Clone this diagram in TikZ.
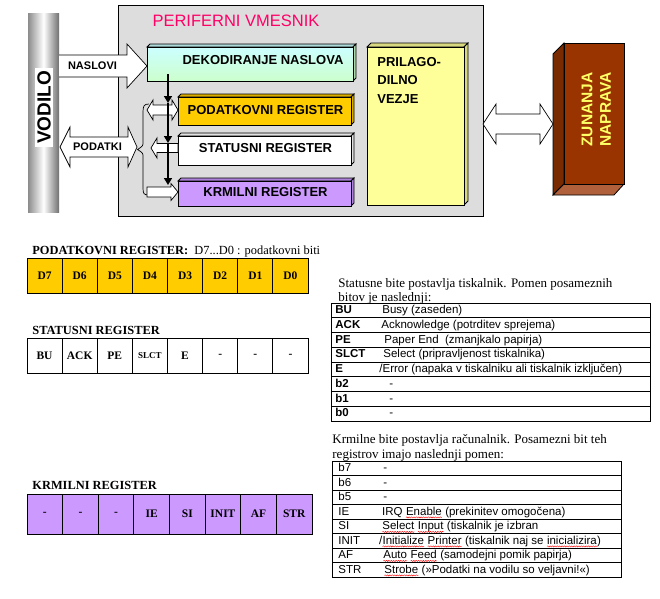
\documentclass[tikz,border=0pt]{standalone}
\usepackage{fontspec}
\setmainfont{Liberation Serif}
\newfontfamily\arial{Liberation Sans}
\usetikzlibrary{arrows.meta,decorations.pathmorphing}
\definecolor{panelgray}{HTML}{DDDDDD}
\definecolor{ttlpink}{HTML}{FF0066}
\definecolor{regyellow}{HTML}{FFCC00}
\definecolor{regviolet}{HTML}{CC99FF}
\definecolor{decocyan}{HTML}{CCFFFF}
\definecolor{decogreen}{HTML}{CCFFCC}
\definecolor{prilyellow}{HTML}{FFFF99}
\definecolor{brownfront}{HTML}{993300}
\definecolor{brownside}{HTML}{7A2A00}
\definecolor{brownbottom}{HTML}{B0603A}
\definecolor{txtyellow}{HTML}{FFFF66}
\definecolor{barshade}{HTML}{8C8C8C}
% bevelled box: x0 y0 x1 y1 depth front side
\newcommand\bevbox[7]{%
  \filldraw[fill=#7] (#1,{#2+#5}) -- ({#1+#5},#2) -- (#3,#2) -- ({#3-#5},{#2+#5}) -- cycle;
  \filldraw[fill=#7] ({#3-#5},{#2+#5}) -- (#3,#2) -- (#3,{#4-#5}) -- ({#3-#5},#4) -- cycle;
  \filldraw[fill=#6] (#1,{#2+#5}) rectangle ({#3-#5},#4);}
\newcommand\wavy[1]{\tikz[baseline=(wv.base)]{\node[inner sep=0pt,outer sep=0pt] (wv) {#1};%
  \draw[red,line width=0.4pt,decorate,decoration={snake,amplitude=0.6pt,segment length=2.4pt}]
  ([yshift=-2.4pt]wv.base west) -- ([yshift=-2.4pt]wv.base east);}}
\begin{document}
\begin{tikzpicture}[x=1pt,y=-1pt,
  lbl/.style={font=\arial\bfseries\fontsize{13}{15}\selectfont, inner sep=0pt},
  smlbl/.style={font=\arial\bfseries\fontsize{11}{13}\selectfont, inner sep=0pt},
  cell/.style={font=\bfseries\fontsize{11.5}{13}\selectfont, inner sep=0pt},
  head/.style={font=\bfseries\fontsize{12.4}{14}\selectfont, inner sep=0pt, anchor=base west},
  para/.style={font=\fontsize{13}{15}\selectfont, inner sep=0pt, anchor=base west},
  desc/.style={font=\arial\fontsize{11.5}{13}\selectfont, inner sep=0pt, anchor=base west},
  desclab/.style={font=\arial\bfseries\fontsize{11.5}{13}\selectfont, inner sep=0pt, anchor=base west},
  blk/.style={fill=white, draw=black, line width=0.7pt},
  line width=0.8pt]
\useasboundingbox (0,0) rectangle (660,598);

% ---------- bus ----------
\shade[left color=barshade, right color=barshade!80!black, middle color=white] (28,13) rectangle (59,212);
\fill[white] (35,68) rectangle (53,147);
\node[font=\arial\bfseries\fontsize{19}{21}\selectfont, rotate=90, inner sep=0pt] (vodilo) at (44,107.5) {VODILO};

% ---------- interface panel ----------
\filldraw[fill=panelgray] (118,5) rectangle (483,216);
\node[text=ttlpink, font=\arial\fontsize{16.5}{18}\selectfont, inner sep=0pt] (title) at (236,21) {PERIFERNI VMESNIK};

% decoder
\filldraw[fill=decocyan!85!black] (147,47) -- (150,44) -- (356,44) -- (353,47) -- cycle;
\filldraw[fill=decogreen!85!black] (353,47) -- (356,44) -- (356,78) -- (353,81) -- cycle;
\shade[top color=decocyan, bottom color=decogreen] (147,47) rectangle (353,81);
\draw (147,47) rectangle (353,81);
\node[lbl] (deko) at (263,60.5) {DEKODIRANJE NASLOVA};

% registers
\bevbox{178}{94}{354}{125}{3}{regyellow}{regyellow!85!black}
\node[lbl] (preg) at (265.5,110) {PODATKOVNI REGISTER};
\bevbox{178}{133}{354}{165}{3}{white}{white!88!black}
\node[lbl] (sreg) at (265.5,148.5) {STATUSNI REGISTER};
\bevbox{178}{178}{354}{206}{3}{regviolet}{regviolet!85!black}
\node[lbl] (kreg) at (265.5,192.5) {KRMILNI REGISTER};

% adapter
\bevbox{367}{43}{468}{205}{4}{prilyellow}{prilyellow!85!black}
\node[lbl, anchor=west] (pril1) at (377,62) {PRILAGO-};
\node[lbl, anchor=west] (pril2) at (377,80.5) {DILNO};
\node[lbl, anchor=west] (pril3) at (377,99) {VEZJE};

% ---------- external device ----------
\filldraw[fill=brownside] (553,54) -- (564,43) -- (564,184) -- (553,195) -- cycle;
\filldraw[fill=brownbottom] (553,195) -- (564,184) -- (624,184) -- (614,195) -- cycle;
\filldraw[fill=brownfront] (564,43) rectangle (624,184);
\node[text=txtyellow, font=\arial\bfseries\fontsize{15.5}{17}\selectfont, rotate=90, inner sep=0pt] (zun) at (587,109.5) {ZUNANJA};
\node[text=txtyellow, font=\arial\bfseries\fontsize{15.5}{17}\selectfont, rotate=90, inner sep=0pt] (nap) at (605.5,109.5) {NAPRAVA};

% adapter <-> device
\draw[blk] (483,124) -- (496,104) -- (496,114) -- (540,114) -- (540,104) -- (553,124)
  -- (540,144) -- (540,134) -- (496,134) -- (496,144) -- cycle;

% ---------- address arrow ----------
\fill[white] (59,55) -- (127,55) -- (127,44) -- (147,66) -- (127,88) -- (127,77) -- (59,77) -- cycle;
\draw[line width=0.7pt] (59,55) -- (127,55) -- (127,44) -- (147,66) -- (127,88) -- (127,77) -- (59,77);
\node[smlbl] (naslovi) at (92.5,66) {NASLOVI};

% ---------- data arrow ----------
\draw[blk] (60,147) -- (70,127) -- (70,137) -- (128,137) -- (128,127) -- (137,147)
  -- (128,167) -- (128,157) -- (70,157) -- (70,167) -- cycle;
\node[smlbl] (podatki) at (97.5,147) {PODATKI};

% brace
\draw[line width=0.7pt] (149,104) .. controls (144,104) and (143,106) .. (143,112) -- (143,142)
  .. controls (143,146) .. (137.5,149.5) .. controls (143,153) .. (143,157) -- (143,188)
  .. controls (143,194) and (144,195) .. (149,195);

% small arrows to registers
\draw[blk] (147,110) -- (153,100) -- (153,105) -- (172,105) -- (172,100) -- (178,110)
  -- (172,120) -- (172,115) -- (153,115) -- (153,120) -- cycle;
\draw[blk] (151,148) -- (157,138) -- (157,143.5) -- (178,143.5) -- (178,152.5) -- (157,152.5) -- (157,158) -- cycle;
\draw[blk] (147,187) -- (171,187) -- (171,183.5) -- (178,192) -- (171,200.5) -- (171,197) -- (147,197) -- cycle;

% decoder select line
\coordinate (dsel) at (168,74);
\coordinate (ps) at (168,103);
\coordinate (ss) at (168,143);
\coordinate (ks) at (168,185);
\draw[line width=1.6pt, -{Triangle[length=7pt,width=8pt]}] (dsel) -- (ps);
\draw[line width=1.6pt, -{Triangle[length=7pt,width=8pt]}] (ps) -- (ss);
\draw[line width=1.6pt, -{Triangle[length=7pt,width=8pt]}] (ss) -- (ks);

% ---------- register bit tables ----------
\node[head] (dhead) at (32,254.7) {PODATKOVNI REGISTER:\ \ \mdseries D7...D0 : podatkovni biti};
\foreach \t [count=\i from 0] in {D7,D6,D5,D4,D3,D2,D1,D0}{
  \draw[fill=regyellow] ({27+\i*35.125},258) rectangle ++(35.125,35);
  \node[cell] (db\i) at ({27+(\i+0.5)*35.125},275.5) {\t};}

\node[head] (shead) at (32,334) {STATUSNI REGISTER};
\foreach \t [count=\i from 0] in {BU,ACK,PE,{\fontsize{9}{10}\selectfont SLCT},E,-,-,-}{
  \draw[fill=white] ({27+\i*35.125},338) rectangle ++(35.125,35.5);
  \node[cell] (sb\i) at ({27+(\i+0.5)*35.125},355.8) {\t};}

\node[head] (khead) at (32,489) {KRMILNI REGISTER};
\foreach \t [count=\i from 0] in {-,-,-,IE,SI,INIT,AF,STR}{
  \draw[fill=regviolet] ({27+\i*35.625},494) rectangle ++(35.625,40);
  \node[cell] (kb\i) at ({27+(\i+0.5)*35.625},514) {\t};}

% ---------- status bit meaning ----------
\node[para] (sp1) at (338,287) {Statusne bite postavlja tiskalnik. Pomen posameznih};
\node[para] (sp2) at (338,301) {bitov je naslednji:};
\draw (331,303) rectangle (650,421);
\foreach \k in {1,...,7}{\draw (331,{303+\k*14.75}) -- (650,{303+\k*14.75});}
\node[desclab] (s0) at (335,313.5) {BU};
\node[desc] (s0d) at (382,313.5) {Busy (zaseden)};
\node[desclab] (s1) at (335,328.25) {ACK};
\node[desc] (s1d) at (381,328.25) {Acknowledge (potrditev sprejema)};
\node[desclab] (s2) at (335,343) {PE};
\node[desc] (s2d) at (384,343) {Paper End\ \ (zmanjkalo papirja)};
\node[desclab] (s3) at (335,357.75) {SLCT};
\node[desc] (s3d) at (383,357.75) {Select (pripravljenost tiskalnika)};
\node[desclab] (s4) at (335,372.5) {E};
\node[desc] (s4d) at (379,372.5) {/Error (napaka v tiskalniku ali tiskalnik izključen)};
\node[desclab] (s5) at (335,387.25) {b2};
\node[desc] (s5d) at (389,387.25) {-};
\node[desclab] (s6) at (335,402) {b1};
\node[desc] (s6d) at (389,402) {-};
\node[desclab] (s7) at (335,416.75) {b0};
\node[desc] (s7d) at (389,416.75) {-};

% ---------- control bit meaning ----------
\node[para] (kp1) at (332,443.3) {Krmilne bite postavlja računalnik. Posamezni bit teh};
\node[para] (kp2) at (332,458.3) {registrov imajo naslednji pomen:};
\draw (332,461) rectangle (621,577);
\foreach \k in {1,...,7}{\draw (332,{461+\k*14.5}) -- (621,{461+\k*14.5});}
\node[desc] (k0) at (338,471.5) {b7};
\node[desc] (k0d) at (383,471.5) {-};
\node[desc] (k1) at (338,486) {b6};
\node[desc] (k1d) at (383,486) {-};
\node[desc] (k2) at (338,500.5) {b5};
\node[desc] (k2d) at (383,500.5) {-};
\node[desc] (k3) at (338,515) {IE};
\node[desc] (k3d) at (382,515) {IRQ \wavy{Enable} (prekinitev omogočena)};
\node[desc] (k4) at (338,529.5) {SI};
\node[desc] (k4d) at (382,529.5) {\wavy{Select} \wavy{Input} (tiskalnik je izbran};
\node[desc] (k5) at (338,544) {INIT};
\node[desc] (k5d) at (379,544) {/\wavy{Initialize} \wavy{Printer} (tiskalnik naj se \wavy{inicializira})};
\node[desc] (k6) at (338,558.5) {AF};
\node[desc] (k6d) at (383,558.5) {\wavy{Auto} \wavy{Feed} (samodejni pomik papirja)};
\node[desc] (k7) at (338,573) {STR};
\node[desc] (k7d) at (384,573) {\wavy{Strobe} (»Podatki na vodilu so veljavni!«)};
\end{tikzpicture}
\end{document}
